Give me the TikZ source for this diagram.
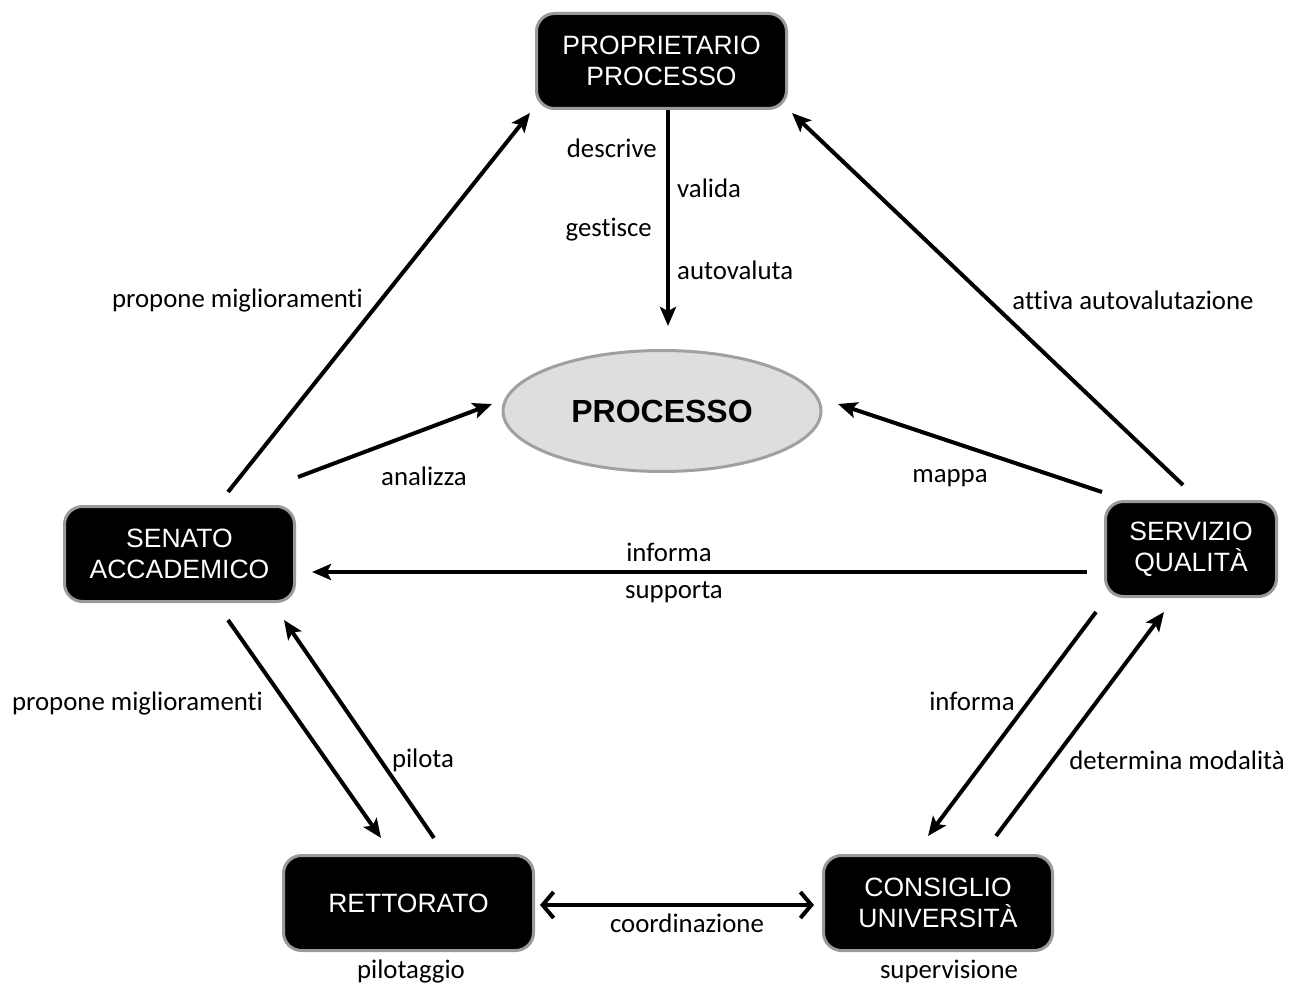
\documentclass[tikz,border=0pt]{standalone}
\usepackage{fontspec}
\setmainfont[Ligatures=NoCommon]{Carlito}
\newfontfamily\boxfont{Liberation Sans}
\usetikzlibrary{arrows.meta,calc,shapes.geometric}
\definecolor{bordergray}{HTML}{9A9A9A}
\definecolor{ellfill}{HTML}{DEDEDE}
\definecolor{ellborder}{HTML}{A0A0A0}
\begin{document}
\begin{tikzpicture}[x=1pt,y=-1pt,
  actor/.style={draw=bordergray, line width=3pt, fill=black, rounded corners=18pt,
    text=white, align=center, font=\boxfont\fontsize{26.5}{31}\selectfont,
    minimum height=95pt, inner sep=0pt},
  proc/.style={ellipse, draw=ellborder, line width=3pt, fill=ellfill,
    minimum width=318pt, minimum height=121pt, inner sep=0pt,
    font=\boxfont\bfseries\fontsize{32}{36}\selectfont},
  lab/.style={font=\fontsize{26.8}{30}\selectfont, inner sep=0pt},
  arr/.style={line width=4pt, -{Stealth[length=19pt,width=16pt,inset=4pt]}},
  dbl/.style={line width=4pt, {Straight Barb[length=11pt,width=26pt,line width=4pt]}-{Straight Barb[length=11pt,width=26pt,line width=4pt]}}
]
\useasboundingbox (0,0) rectangle (1291,984);

\node[actor, minimum width=250pt] (prop) at (661.5,61) {PROPRIETARIO\\PROCESSO};
\node[actor, minimum width=230pt] (sen) at (179.5,554) {SENATO\\ACCADEMICO};
\node[actor, minimum width=171pt] (serv) at (1191,549) {SERVIZIO\\QUALITÀ};
\node[actor, minimum width=250pt] (ret) at (408.5,903) {RETTORATO};
\node[actor, minimum width=229pt] (cons) at (938,903) {CONSIGLIO\\UNIVERSITÀ};
\node[proc] (pr) at (662,411) {PROCESSO};

% arrows
\draw[arr] ($(prop)+(6.5,49)$) -- ($(pr)+(6,-85)$);
\draw[arr] ($(sen)+(48.5,-62)$) -- ($(prop)+(-131.5,52)$);
\draw[arr] ($(serv)+(-8,-64)$) -- ($(prop)+(130.5,52)$);
\draw[arr] ($(sen)+(118.5,-77)$) -- ($(pr)+(-170,-7)$);
\draw[arr] ($(serv)+(-89,-57)$) -- ($(pr)+(176,-7)$);
\draw[arr] ($(serv)+(-104,23)$) -- ($(sen)+(132.5,18)$);
\draw[arr] ($(sen)+(48.5,66)$) -- ($(ret)+(-27.5,-65)$);
\draw[arr] ($(ret)+(25.5,-65)$) -- ($(sen)+(104.5,66)$);
\draw[arr] ($(serv)+(-95,63)$) -- ($(cons)+(-10,-67)$);
\draw[arr] ($(cons)+(58,-67)$) -- ($(serv)+(-27,63)$);
\draw[dbl] ($(ret)+(131.5,2)$) -- ($(cons)+(-124,2)$);

% labels
\node[lab, anchor=east] (l1) at (657,148) {descrive};
\node[lab, anchor=west] (l2) at (677,188) {valida};
\node[lab, anchor=east] (l3) at (652,230) {gestisce};
\node[lab, anchor=west] (l4) at (677,270) {autovaluta};
\node[lab] (l5) at (237.5,300) {propone miglioramenti};
\node[lab] (l6) at (1133,300) {attiva autovalutazione};
\node[lab] (l7) at (424,476) {analizza};
\node[lab] (l8) at (950,478) {mappa};
\node[lab] (l9) at (669,552) {informa};
\node[lab] (l10) at (674,592) {supporta};
\node[lab] (l11) at (137.5,703) {propone miglioramenti};
\node[lab] (l12) at (423,760) {pilota};
\node[lab] (l13) at (972,701) {informa};
\node[lab] (l14) at (1177,760) {determina modalità};
\node[lab] (l15) at (687,923) {coordinazione};
\node[lab] (l16) at (411,971) {pilotaggio};
\node[lab] (l17) at (949,971) {supervisione};
\end{tikzpicture}
\end{document}
